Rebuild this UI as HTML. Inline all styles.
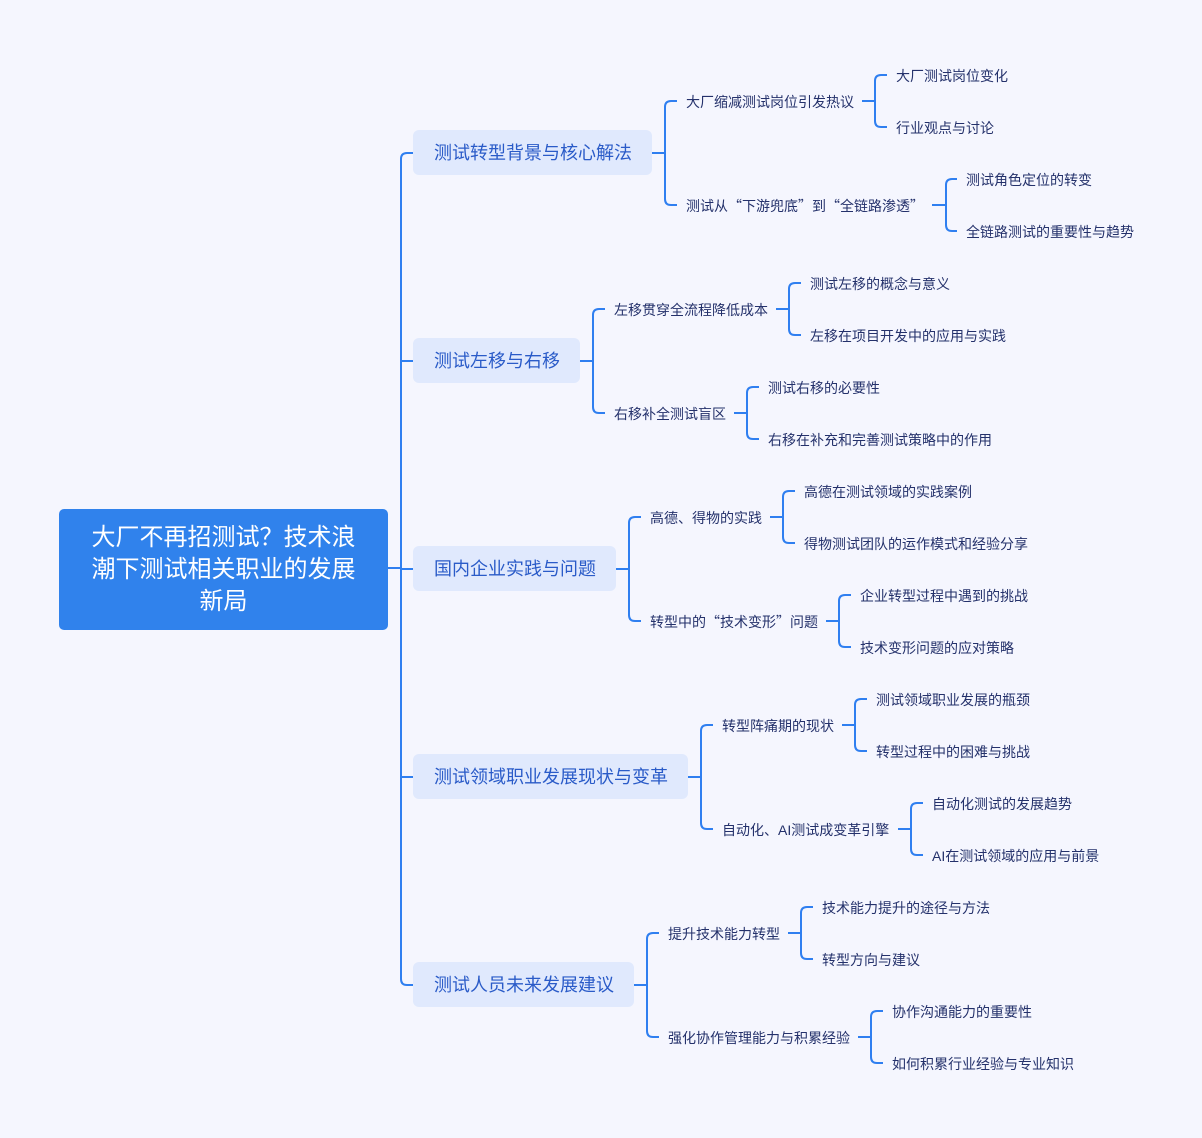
<!DOCTYPE html>
<html><head><meta charset="utf-8"><style>
html,body{margin:0;padding:0;}
body{width:1202px;height:1138px;background:#f5f6fe;position:relative;overflow:hidden;font-family:"Liberation Sans","Noto Sans CJK SC",sans-serif;}
.root{position:absolute;left:59px;top:509px;width:329px;height:121px;background:#3082ec;border-radius:5px;color:#fff;font-size:24px;line-height:32px;text-align:center;display:flex;align-items:center;justify-content:center;padding:0 26px;box-sizing:border-box;}
.l1{position:absolute;left:413px;height:45px;background:#e0e9fd;border-radius:6px;color:#2a5bc8;font-size:18px;line-height:47px;padding:0 21px;box-sizing:border-box;white-space:nowrap;}
.t{position:absolute;font-size:14px;line-height:22px;color:#24316b;white-space:nowrap;}
.q{font-family:"Noto Sans CJK SC",sans-serif;}
svg{position:absolute;left:0;top:0;}
</style></head><body>
<svg width="1202" height="1138" fill="none" stroke="#2f7ff0" stroke-width="2">
<path d="M388 568 H401 M413 153 H407 Q401 153 401 159 V979 Q401 985 407 985 H413 M401 361 H413 M401 569 H413 M401 777 H413"/>
<path d="M652 153 H665 M677 101 H671 Q665 101 665 107 V199 Q665 205 671 205 H677"/>
<path d="M862 101 H875 M887 75 H881 Q875 75 875 81 V121 Q875 127 881 127 H887"/>
<path d="M932 205 H946 M957 179 H952 Q946 179 946 185 V225 Q946 231 952 231 H957"/>
<path d="M580 361 H593 M605 309 H599 Q593 309 593 315 V407 Q593 413 599 413 H605"/>
<path d="M776 309 H789 M801 283 H795 Q789 283 789 289 V329 Q789 335 795 335 H801"/>
<path d="M734 413 H747 M759 387 H753 Q747 387 747 393 V433 Q747 439 753 439 H759"/>
<path d="M616 569 H629 M641 517 H635 Q629 517 629 523 V615 Q629 621 635 621 H641"/>
<path d="M770 517 H783 M795 491 H789 Q783 491 783 497 V537 Q783 543 789 543 H795"/>
<path d="M826 621 H839 M851 595 H845 Q839 595 839 601 V641 Q839 647 845 647 H851"/>
<path d="M688 777 H701 M713 725 H707 Q701 725 701 731 V823 Q701 829 707 829 H713"/>
<path d="M842 725 H855 M867 699 H861 Q855 699 855 705 V745 Q855 751 861 751 H867"/>
<path d="M898 829 H911 M923 803 H917 Q911 803 911 809 V849 Q911 855 917 855 H923"/>
<path d="M634 985 H647 M659 933 H653 Q647 933 647 939 V1031 Q647 1037 653 1037 H659"/>
<path d="M788 933 H801 M813 907 H807 Q801 907 801 913 V953 Q801 959 807 959 H813"/>
<path d="M858 1037 H871 M883 1011 H877 Q871 1011 871 1017 V1057 Q871 1063 877 1063 H883"/>
</svg>
<div class="root">大厂不再招测试？技术浪潮下测试相关职业的发展新局</div>
<div class="l1" style="top:130px;width:239px">测试转型背景与核心解法</div>
<div class="l1" style="top:338px;width:167px">测试左移与右移</div>
<div class="l1" style="top:546px;width:203px">国内企业实践与问题</div>
<div class="l1" style="top:754px;width:275px">测试领域职业发展现状与变革</div>
<div class="l1" style="top:962px;width:221px">测试人员未来发展建议</div>

<div class="t" style="left:686px;top:91px">大厂缩减测试岗位引发热议</div>
<div class="t" style="left:896px;top:65px">大厂测试岗位变化</div>
<div class="t" style="left:896px;top:117px">行业观点与讨论</div>
<div class="t" style="left:686px;top:195px">测试从<span class="q">“</span>下游兜底<span class="q">”</span>到<span class="q">“</span>全链路渗透<span class="q">”</span></div>
<div class="t" style="left:966px;top:169px">测试角色定位的转变</div>
<div class="t" style="left:966px;top:221px">全链路测试的重要性与趋势</div>

<div class="t" style="left:614px;top:299px">左移贯穿全流程降低成本</div>
<div class="t" style="left:810px;top:273px">测试左移的概念与意义</div>
<div class="t" style="left:810px;top:325px">左移在项目开发中的应用与实践</div>
<div class="t" style="left:614px;top:403px">右移补全测试盲区</div>
<div class="t" style="left:768px;top:377px">测试右移的必要性</div>
<div class="t" style="left:768px;top:429px">右移在补充和完善测试策略中的作用</div>

<div class="t" style="left:650px;top:507px">高德、得物的实践</div>
<div class="t" style="left:804px;top:481px">高德在测试领域的实践案例</div>
<div class="t" style="left:804px;top:533px">得物测试团队的运作模式和经验分享</div>
<div class="t" style="left:650px;top:611px">转型中的<span class="q">“</span>技术变形<span class="q">”</span>问题</div>
<div class="t" style="left:860px;top:585px">企业转型过程中遇到的挑战</div>
<div class="t" style="left:860px;top:637px">技术变形问题的应对策略</div>

<div class="t" style="left:722px;top:715px">转型阵痛期的现状</div>
<div class="t" style="left:876px;top:689px">测试领域职业发展的瓶颈</div>
<div class="t" style="left:876px;top:741px">转型过程中的困难与挑战</div>
<div class="t" style="left:722px;top:819px">自动化、AI测试成变革引擎</div>
<div class="t" style="left:932px;top:793px">自动化测试的发展趋势</div>
<div class="t" style="left:932px;top:845px">AI在测试领域的应用与前景</div>

<div class="t" style="left:668px;top:923px">提升技术能力转型</div>
<div class="t" style="left:822px;top:897px">技术能力提升的途径与方法</div>
<div class="t" style="left:822px;top:949px">转型方向与建议</div>
<div class="t" style="left:668px;top:1027px">强化协作管理能力与积累经验</div>
<div class="t" style="left:892px;top:1001px">协作沟通能力的重要性</div>
<div class="t" style="left:892px;top:1053px">如何积累行业经验与专业知识</div>
</body></html>
